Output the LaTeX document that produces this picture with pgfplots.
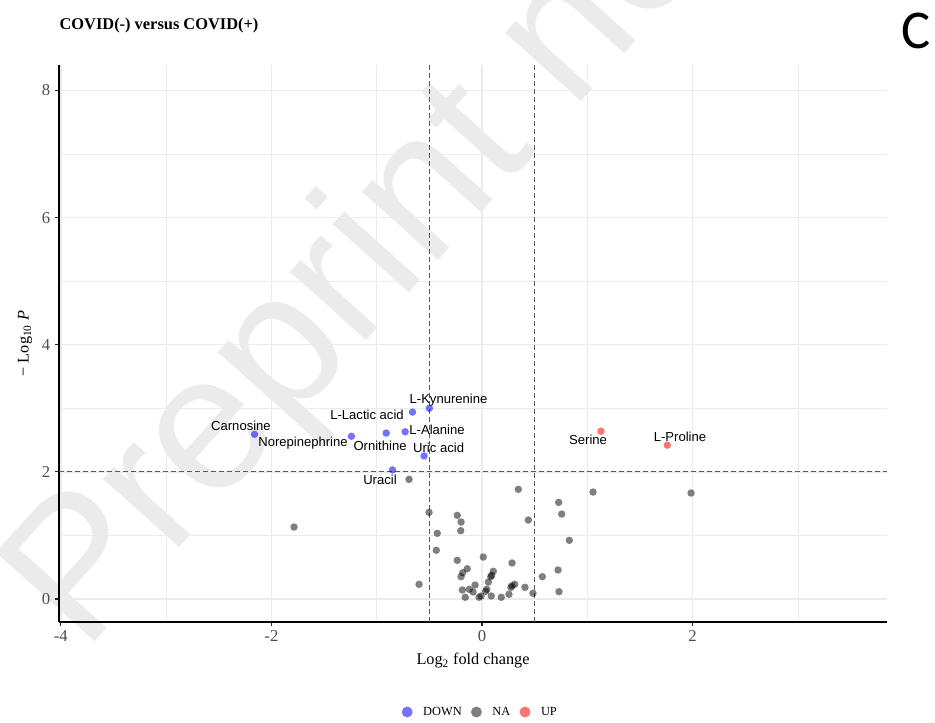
\documentclass[border=0pt]{standalone}
\usepackage{fontspec}
\setmainfont{Liberation Serif}
\newfontfamily\arialfont{Liberation Sans}
\newfontfamily\carlito{Carlito}
\usepackage{pgfplots}
\pgfplotsset{compat=1.18}
\definecolor{gridc}{HTML}{EBEBEB}
\definecolor{tickc}{HTML}{4D4D4D}
\definecolor{wm}{HTML}{EBEBEB}
\definecolor{downc}{HTML}{0000FF}
\definecolor{upc}{HTML}{FF0000}

\pgfplotstableread{
x y
-0.693 1.882
0.345 1.725
0.728 1.520
0.757 1.336
-0.503 1.363
-0.235 1.316
-0.199 1.211
-0.202 1.074
0.440 1.242
-0.425 1.033
0.829 0.923
-0.434 0.766
0.012 0.660
-0.235 0.608
0.285 0.566
-0.140 0.476
-0.183 0.414
-0.199 0.351
0.107 0.436
0.092 0.373
0.083 0.351
0.060 0.267
0.722 0.456
0.573 0.351
-0.598 0.231
-0.066 0.220
0.311 0.231
0.285 0.209
0.275 0.184
0.408 0.184
-0.187 0.142
-0.121 0.153
-0.085 0.110
0.045 0.153
0.035 0.121
0.731 0.115
0.484 0.090
0.256 0.074
-0.159 0.027
-0.028 0.027
-0.009 0.047
0.088 0.047
0.183 0.027
-1.785 1.132
1.054 1.682
1.985 1.667
}\nadata

\pgfplotstableread{
x y
-2.16 2.59
-1.24 2.56
-0.91 2.61
-0.66 2.94
-0.50 3.00
-0.73 2.63
-0.55 2.25
-0.85 2.03
}\downdata

\pgfplotstableread{
x y
1.13 2.64
1.76 2.42
}\updata

\begin{document}
\begin{tikzpicture}
\path[use as bounding box] (0,0) rectangle (701.25pt,541.5pt);
\node[rotate=48, anchor=base west, inner sep=0pt, text=wm, font=\arialfont\fontsize{145}{145}\selectfont] at (63pt,51pt) {Preprint not peer reviewed};
\node[anchor=base west, inner sep=0pt, font=\bfseries\fontsize{12.3}{14}\selectfont] at (44.5pt,519pt) {COVID(-) versus COVID(+)};
\node[anchor=center, inner sep=0pt, font=\carlito\fontsize{41}{41}\selectfont] at (687pt,518pt) {C};
\begin{axis}[
  at={(44.25pt,75pt)}, anchor=south west,
  scale only axis, width=621pt, height=417.75pt,
  xmin=-4.017, xmax=3.846, ymin=-0.362, ymax=8.40,
  axis x line*=bottom, axis y line*=left,
  axis line style={black, line width=1.1pt, -},
  xtick={-4,-2,0,2}, ytick={0,2,4,6,8},
  minor xtick={-3,-1,1,3}, minor ytick={1,3,5,7},
  grid=both,
  major grid style={gridc, line width=1.1pt},
  minor grid style={gridc, line width=0.6pt},
  tick align=outside, major tick length=3pt, minor tick length=0pt,
  tick style={black!85, line width=0.8pt},
  /pgf/number format/assume math mode=true,
  ticklabel style={font=\fontsize{12.5}{14}\selectfont, text=tickc},
  xlabel={Log\textsubscript{2} fold change},
  ylabel={− Log\textsubscript{10} \textit{P}},
  every axis x label/.style={at={(axis description cs:0.5,-0.070)}, anchor=center, font=\fontsize{12.2}{14}\selectfont},
  every axis y label/.style={at={(axis description cs:-0.041,0.5)}, rotate=90, anchor=center, font=\fontsize{12.2}{14}\selectfont},
  legend style={at={(0.5085,-0.1616)}, anchor=center, draw=none, fill=none,
    font=\fontsize{9.3}{10}\selectfont, legend columns=3,
    /tikz/every even column/.append style={column sep=4pt}},
  legend image code/.code={\path[draw=none,fill=none] (0pt,0pt) -- (15pt,0pt); \path[#1, draw=none, mark size=4.1pt] plot coordinates {(5pt,0pt)};},
  clip=false,
]
\addplot[forget plot, black!65, line width=0.7pt, dash pattern=on 3.5pt off 2.5pt] coordinates {(-0.5,-0.362) (-0.5,8.40)};
\addplot[forget plot, black!65, line width=0.7pt, dash pattern=on 3.5pt off 2.5pt] coordinates {(0.5,-0.362) (0.5,8.40)};
\addplot[forget plot, black!65, line width=0.7pt, dash pattern=on 3.5pt off 2.5pt] coordinates {(-4.017,2) (3.846,2)};
\addplot[only marks, mark=*, mark size=2.8pt, draw=none, mark options={draw opacity=0, line width=0pt, fill=downc, fill opacity=0.55}] table {\downdata};
\addlegendentry{DOWN}
\addplot[only marks, mark=*, mark size=2.8pt, draw=none, mark options={draw opacity=0, line width=0pt, fill=black, fill opacity=0.5}] table {\nadata};
\addlegendentry{NA}
\addplot[only marks, mark=*, mark size=2.8pt, draw=none, mark options={draw opacity=0, line width=0pt, fill=upc, fill opacity=0.55}] table {\updata};
\addlegendentry{UP}
\begin{scope}[every node/.style={font=\arialfont\fontsize{9.8}{11}\selectfont, inner sep=0pt, anchor=center}]
\node at (axis cs:-2.289,2.720) {Carnosine};
\node at (axis cs:-1.700,2.453) {Norepinephrine};
\node at (axis cs:-0.968,2.406) {Ornithine};
\node at (axis cs:-1.092,2.893) {L-Lactic acid};
\node at (axis cs:-0.318,3.129) {L-Kynurenine};
\node at (axis cs:-0.427,2.657) {L-Alanine};
\node at (axis cs:-0.412,2.374) {Uric acid};
\node at (axis cs:-0.969,1.871) {Uracil};
\node at (axis cs:1.007,2.500) {Serine};
\node at (axis cs:1.880,2.547) {L-Proline};
\end{scope}
\end{axis}
\end{tikzpicture}
\end{document}
